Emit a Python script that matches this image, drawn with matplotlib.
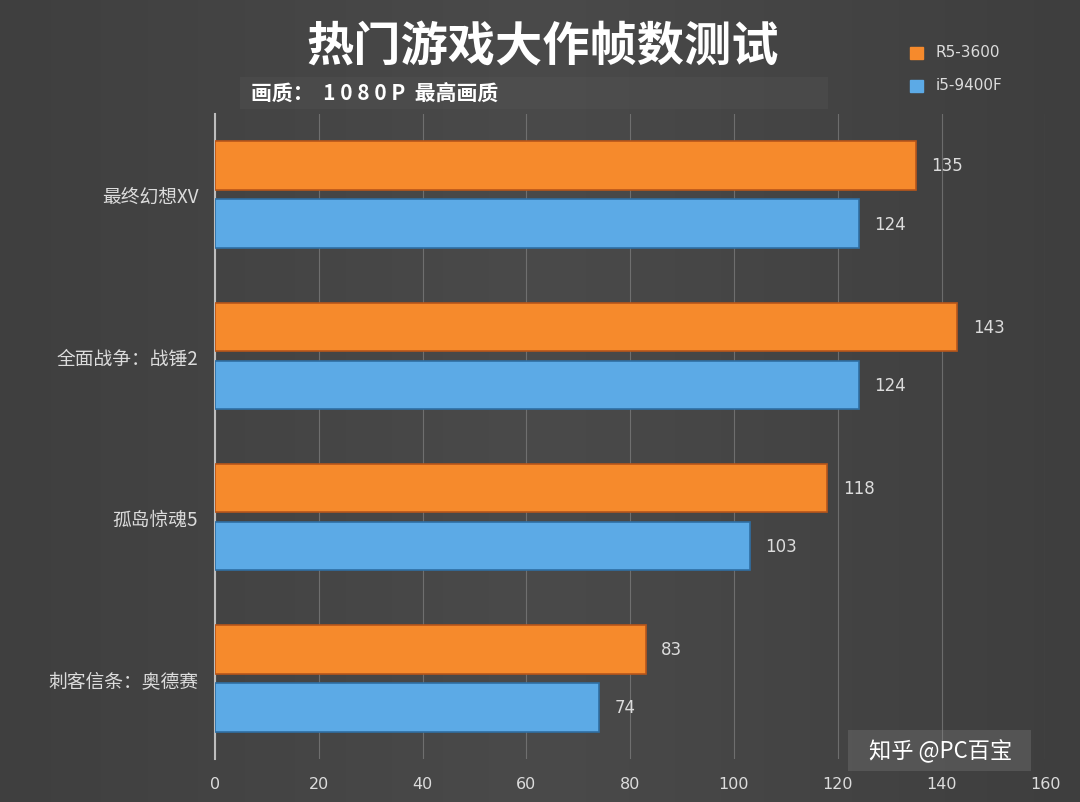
import numpy as np
import matplotlib
matplotlib.use('Agg')
import matplotlib.pyplot as plt
import matplotlib.patches as mpatches

plt.rcParams['font.family'] = ['Noto Sans CJK SC', 'DejaVu Sans']

games  = ['最终幻想XV', '全面战争：战锤2', '孤岛惊魂5', '刺客信条：奥德赛']
r5     = [135, 143, 118, 83]
i5     = [124, 124, 103, 74]
series = ['R5-3600', 'i5-9400F']
xticks = [0, 20, 40, 60, 80, 100, 120, 140, 160]

ORANGE = '#f68a2c'
BLUE   = '#5caae6'
TXT    = '#dcdcdc'

fig = plt.figure(figsize=(10.8, 8.03), dpi=100)

# dark gradient background
bg = fig.add_axes([0, 0, 1, 1], zorder=-10)
grad = np.linspace(0, 1, 256).reshape(1, -1)
bg.imshow(np.vstack([grad] * 4), aspect='auto', extent=[0, 1, 0, 1],
          cmap=matplotlib.colors.LinearSegmentedColormap.from_list(
              'bg', ['#3f3f3f', '#4a4a4a', '#3e3e3e']))
bg.set_xlim(0, 1)
bg.set_ylim(0, 1)
bg.axis('off')
# subtitle band
bg.add_patch(mpatches.Rectangle((0.222, 0.863), 0.545, 0.04,
                                color='#555555', alpha=0.35, lw=0))
# watermark band
bg.add_patch(mpatches.Rectangle((0.785, 0.038), 0.17, 0.052,
                                color='#6e6e6e', alpha=0.45, lw=0))

ax = fig.add_axes([0.199, 0.0535, 0.769, 0.8035])
ax.set_facecolor('none')

y = np.arange(len(games))
h = 0.30
off = 0.18
ax.barh(y - off, r5, h, color=ORANGE, edgecolor='#b8561a', lw=1.2, zorder=3)
ax.barh(y + off, i5, h, color=BLUE, edgecolor='#2f6fa3', lw=1.2, zorder=3)

for yi, v in zip(y, r5):
    ax.text(v + 3, yi - off, str(v), va='center', ha='left',
            color=TXT, fontsize=12, family=['DejaVu Sans'])
for yi, v in zip(y, i5):
    ax.text(v + 3, yi + off, str(v), va='center', ha='left',
            color=TXT, fontsize=12, family=['DejaVu Sans'])

ax.set_xlim(0, 160)
ax.set_ylim(3.5, -0.5)
ax.set_xticks(xticks)
ax.set_xticklabels([str(t) for t in xticks], color=TXT, fontsize=11.5,
                   family=['DejaVu Sans'])
ax.set_yticks(y)
ax.set_yticklabels(games, color=TXT, fontsize=13.5)
ax.tick_params(axis='y', length=0, pad=12)
ax.tick_params(axis='x', length=0, pad=12)
ax.grid(True, axis='x', color='#8a8a8a', lw=0.8, alpha=0.6, zorder=0)
for s in ['top', 'right', 'bottom']:
    ax.spines[s].set_visible(False)
ax.spines['left'].set_color('#bdbdbd')
ax.spines['left'].set_linewidth(1.5)

fig.text(0.502, 0.942, '热门游戏大作帧数测试', ha='center', va='center',
         color='white', fontsize=34, fontweight='bold')
fig.text(0.232, 0.884, '画质：  1 0 8 0 P  最高画质', ha='left', va='center',
         color='white', fontsize=15, fontweight='bold')

# legend
for i, (lab, c) in enumerate(zip(series, [ORANGE, BLUE])):
    yy = 0.934 - i * 0.041
    fig.patches.append(mpatches.Rectangle((0.843, yy - 0.009), 0.0115, 0.0155,
                                          color=c, transform=fig.transFigure))
    fig.text(0.866, yy, lab, ha='left', va='center', color=TXT, fontsize=11,
             family=['DejaVu Sans'])

# watermark
fig.text(0.805, 0.064, '知乎 @PC百宝', ha='left', va='center', color='white',
         fontsize=16)

fig.savefig('out.png', dpi=100)
